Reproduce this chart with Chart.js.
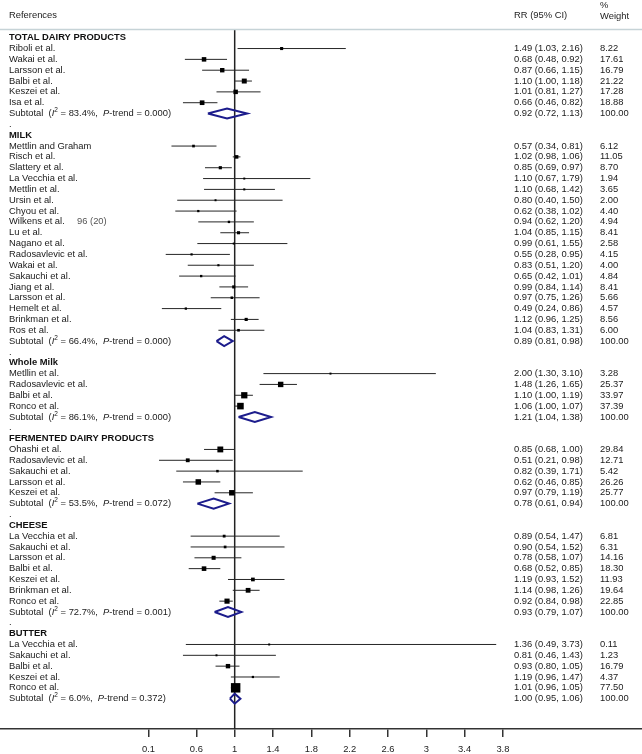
<!DOCTYPE html>
<html>
<head>
<meta charset="utf-8">
<script src="https://cdn.jsdelivr.net/npm/chart.js@4/dist/chart.umd.min.js"></script>
<style>
  html, body { margin: 0; padding: 0; background: #ffffff; }
  canvas { display: block; }
</style>
</head>
<body>
<canvas id="c" width="642" height="754"></canvas>
<script>
// ---------------- DATA ----------------
const groupNames = ["TOTAL DAIRY PRODUCTS", "MILK", "Whole Milk", "FERMENTED DAIRY PRODUCTS", "CHEESE", "BUTTER"];

const studyGroup = [
  0,0,0,0,0,0,
  1,1,1,1,1,1,1,1,1,1,1,1,1,1,1,1,1,1,
  2,2,2,2,
  3,3,3,3,3,
  4,4,4,4,4,4,4,
  5,5,5,5,5
];
const studyLabels = [
  "Riboli et al.", "Wakai et al.", "Larsson et al.", "Balbi et al.", "Keszei et al.", "Isa et al.",
  "Mettlin and Graham", "Risch et al.", "Slattery et al.", "La Vecchia et al.", "Mettlin et al.", "Ursin et al.",
  "Chyou et al.", "Wilkens et al.", "Lu et al.", "Nagano et al.", "Radosavlevic et al.", "Wakai et al.",
  "Sakauchi et al.", "Jiang et al.", "Larsson et al.", "Hemelt et al.", "Brinkman et al.", "Ros et al.",
  "Metllin et al.", "Radosavlevic et al.", "Balbi et al.", "Ronco et al.",
  "Ohashi et al.", "Radosavlevic et al.", "Sakauchi et al.", "Larsson et al.", "Keszei et al.",
  "La Vecchia et al.", "Sakauchi et al.", "Larsson et al.", "Balbi et al.", "Keszei et al.", "Brinkman et al.", "Ronco et al.",
  "La Vecchia et al.", "Sakauchi et al.", "Balbi et al.", "Keszei et al.", "Ronco et al."
];
const studyRR = [
  1.49, 0.68, 0.87, 1.10, 1.01, 0.66,
  0.57, 1.02, 0.85, 1.10, 1.10, 0.80, 0.62, 0.94, 1.04, 0.99, 0.55, 0.83, 0.65, 0.99, 0.97, 0.49, 1.12, 1.04,
  2.00, 1.48, 1.10, 1.06,
  0.85, 0.51, 0.82, 0.62, 0.97,
  0.89, 0.90, 0.78, 0.68, 1.19, 1.14, 0.92,
  1.36, 0.81, 0.93, 1.19, 1.01
];
const studyLow = [
  1.03, 0.48, 0.66, 1.00, 0.81, 0.46,
  0.34, 0.98, 0.69, 0.67, 0.68, 0.40, 0.38, 0.62, 0.85, 0.61, 0.28, 0.51, 0.42, 0.84, 0.75, 0.24, 0.96, 0.83,
  1.30, 1.26, 1.00, 1.00,
  0.68, 0.21, 0.39, 0.46, 0.79,
  0.54, 0.54, 0.58, 0.52, 0.93, 0.98, 0.84,
  0.49, 0.46, 0.80, 0.96, 0.96
];
const studyHigh = [
  2.16, 0.92, 1.15, 1.18, 1.27, 0.82,
  0.81, 1.06, 0.97, 1.79, 1.42, 1.50, 1.02, 1.20, 1.15, 1.55, 0.95, 1.20, 1.01, 1.14, 1.26, 0.86, 1.25, 1.31,
  3.10, 1.65, 1.19, 1.07,
  1.00, 0.98, 1.71, 0.85, 1.19,
  1.47, 1.52, 1.07, 0.85, 1.52, 1.26, 0.98,
  3.73, 1.43, 1.05, 1.47, 1.05
];
const studyWeight = [
  8.22, 17.61, 16.79, 21.22, 17.28, 18.88,
  6.12, 11.05, 8.70, 1.94, 3.65, 2.00, 4.40, 4.94, 8.41, 2.58, 4.15, 4.00, 4.84, 8.41, 5.66, 4.57, 8.56, 6.00,
  3.28, 25.37, 33.97, 37.39,
  29.84, 12.71, 5.42, 26.26, 25.77,
  6.81, 6.31, 14.16, 18.30, 11.93, 19.64, 22.85,
  0.11, 1.23, 16.79, 4.37, 77.50
];

const subtotalRR   = [0.92, 0.89, 1.21, 0.78, 0.93, 1.00];
const subtotalLow  = [0.72, 0.81, 1.04, 0.61, 0.79, 0.95];
const subtotalHigh = [1.13, 0.98, 1.38, 0.94, 1.07, 1.06];
const subtotalI2   = [83.4, 66.4, 86.1, 53.5, 72.7, 6.0];
const subtotalP    = [0.000, 0.000, 0.000, 0.072, 0.001, 0.372];
const subtotalWeight = [100, 100, 100, 100, 100, 100];

const xTickValues = [0.1, 0.6, 1, 1.4, 1.8, 2.2, 2.6, 3, 3.4, 3.8];
const xTickLabels = ["0.1", "0.6", "1", "1.4", "1.8", "2.2", "2.6", "3", "3.4", "3.8"];
const nullEffect = 1;

// ---------------- LAYOUT (rows) ----------------
const FONT = '"Liberation Sans", Arial, Helvetica, sans-serif';
const FS = 9.4;
const Y_MIN = -0.803, Y_MAX = 63.8;
const rows = [];
const studyRow = [];
const subtotalRow = [];
for (let g = 0; g < groupNames.length; g++) {
  rows.push({ type: 'head', text: groupNames[g] });
  for (let i = 0; i < studyGroup.length; i++) {
    if (studyGroup[i] === g) { studyRow[i] = rows.length; rows.push({ type: 'study', idx: i }); }
  }
  subtotalRow[g] = rows.length;
  rows.push({ type: 'sub', idx: g });
  if (g < groupNames.length - 1) rows.push({ type: 'dot' });
}

// ---------------- DATASETS ----------------
const ciData = [];
studyRR.forEach((v, i) => {
  ciData.push({ x: studyLow[i], y: studyRow[i] });
  ciData.push({ x: studyHigh[i], y: studyRow[i] });
  ciData.push({ x: null, y: null });
});
const markerData = studyRR.map((v, i) => ({ x: v, y: studyRow[i] }));
const markerRadius = studyWeight.map(w => Math.max(1.4, 0.76 * Math.sqrt(w)));

const DH = 0.46; // diamond half height in rows
const diamondData = [];
subtotalRR.forEach((v, g) => {
  const r = subtotalRow[g];
  diamondData.push({ x: subtotalLow[g], y: r });
  diamondData.push({ x: v, y: r - DH });
  diamondData.push({ x: subtotalHigh[g], y: r });
  diamondData.push({ x: v, y: r + DH });
  diamondData.push({ x: subtotalLow[g], y: r });
  diamondData.push({ x: null, y: null });
});

// ---------------- TEXT PLUGIN ----------------
function drawRich(ctx, parts, x, y) {
  for (const p of parts) {
    ctx.font = p.font;
    ctx.fillText(p.t, x, y + (p.dy || 0));
    x += ctx.measureText(p.t).width;
  }
}
const textPlugin = {
  id: 'forestText',
  afterDraw(chart) {
    const ctx = chart.ctx;
    const ys = chart.scales.y;
    const W = chart.width;
    const nf = FS + 'px ' + FONT;
    const bf = 'bold ' + FS + 'px ' + FONT;
    const itf = 'italic ' + FS + 'px ' + FONT;
    const sf = '6.5px ' + FONT;
    const xL = 9, xRR = 514, xW = 600;
    ctx.save();
    ctx.fillStyle = '#222';
    ctx.textBaseline = 'middle';
    ctx.textAlign = 'left';
    ctx.font = nf;
    ctx.fillText('References', xL, 15);
    ctx.fillText('RR (95% CI)', xRR, 15);
    ctx.fillText('%', xW, 5);
    ctx.fillText('Weight', xW, 16);
    ctx.strokeStyle = '#c6d3d7';
    ctx.lineWidth = 1.5;
    ctx.beginPath();
    ctx.moveTo(0, 29.5);
    ctx.lineTo(W, 29.5);
    ctx.stroke();

    rows.forEach((row, r) => {
      const y = ys.getPixelForValue(r);
      ctx.fillStyle = '#1a1a1a';
      if (row.type === 'head') {
        ctx.font = bf;
        ctx.fillStyle = '#111';
        ctx.fillText(row.text, xL, y);
      } else if (row.type === 'study') {
        const i = row.idx;
        ctx.font = nf;
        ctx.fillText(studyLabels[i], xL, y);
        ctx.fillText(studyRR[i].toFixed(2) + ' (' + studyLow[i].toFixed(2) + ', ' + studyHigh[i].toFixed(2) + ')', xRR, y);
        ctx.fillText(studyWeight[i].toFixed(2), xW, y);
      } else if (row.type === 'sub') {
        const g = row.idx;
        drawRich(ctx, [
          { t: 'Subtotal  (', font: nf },
          { t: 'I', font: itf },
          { t: '2', font: sf, dy: -3 },
          { t: ' = ' + subtotalI2[g].toFixed(1) + '%,  ', font: nf },
          { t: 'P', font: itf },
          { t: '-trend = ' + subtotalP[g].toFixed(3) + ')', font: nf }
        ], xL, y);
        ctx.font = nf;
        ctx.fillText(subtotalRR[g].toFixed(2) + ' (' + subtotalLow[g].toFixed(2) + ', ' + subtotalHigh[g].toFixed(2) + ')', xRR, y);
        ctx.fillText(subtotalWeight[g].toFixed(2), xW, y);
      } else if (row.type === 'dot') {
        ctx.font = nf;
        ctx.fillText('.', xL, y);
      }
    });
    // stray text fragment visible in the reference image next to Wilkens et al.
    ctx.font = nf;
    ctx.fillStyle = '#555';
    ctx.fillText('96 (20)', 77, ys.getPixelForValue(studyRow[13]));
    ctx.restore();
  }
};

// ---------------- CHART ----------------
new Chart(document.getElementById('c'), {
  type: 'scatter',
  data: {
    datasets: [
      {
        label: 'null line',
        data: [{ x: nullEffect, y: Y_MIN }, { x: nullEffect, y: Y_MAX }],
        showLine: true, borderColor: '#222', borderWidth: 1.5, pointRadius: 0, order: 4
      },
      {
        label: 'CI',
        data: ciData,
        showLine: true, spanGaps: false, borderColor: '#262626', borderWidth: 1, pointRadius: 0, order: 3
      },
      {
        label: 'subtotals',
        data: diamondData,
        showLine: true, spanGaps: false, borderColor: '#1c1c8c', borderWidth: 2,
        borderJoinStyle: 'miter', pointRadius: 0, fill: false, order: 2
      },
      {
        label: 'RR',
        data: markerData,
        pointStyle: 'rect', pointRadius: markerRadius, pointBackgroundColor: '#000',
        backgroundColor: '#000', pointBorderWidth: 0, borderWidth: 0, order: 1
      }
    ]
  },
  options: {
    responsive: false,
    animation: false,
    events: [],
    layout: { autoPadding: false, padding: { top: 29, left: 0, right: 0, bottom: 0 } },
    plugins: { legend: { display: false }, tooltip: { enabled: false } },
    scales: {
      x: {
        type: 'linear',
        min: -1.45, max: 5.252,
        afterBuildTicks: s => { s.ticks = xTickValues.map(v => ({ value: v })); },
        afterFit: s => { s.height = 25; },
        ticks: {
          callback: (v, i) => xTickLabels[i],
          font: { size: FS, family: FONT },
          color: '#222', padding: 7, maxRotation: 0, autoSkip: false
        },
        grid: { drawOnChartArea: false, drawTicks: true, tickLength: 8, color: '#333', lineWidth: 1.5 },
        border: { display: true, color: '#333', width: 1.5 }
      },
      y: { type: 'linear', display: false, reverse: true, min: Y_MIN, max: Y_MAX }
    }
  },
  plugins: [textPlugin]
});
</script>
</body>
</html>
